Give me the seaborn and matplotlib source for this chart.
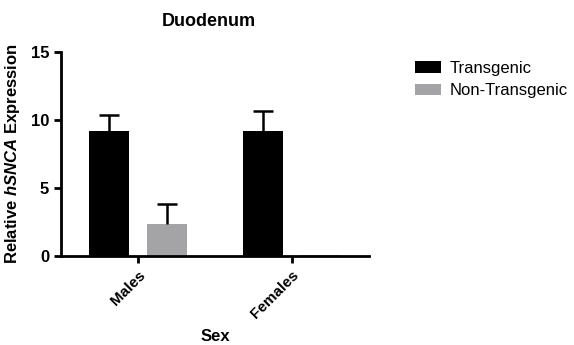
import matplotlib
matplotlib.use('Agg')
import matplotlib.pyplot as plt
import seaborn as sns
import pandas as pd

sexes = ['Males', 'Females']
groups = ['Transgenic', 'Non-Transgenic']
trans_mean = [9.2, 9.2]
trans_err = [1.2, 1.45]
nontrans_mean = [2.35, 0.05]
nontrans_err = [1.45, 0.0]

df = pd.DataFrame({
    'Sex': sexes * 2,
    'Group': [groups[0]] * 2 + [groups[1]] * 2,
    'Expr': trans_mean + nontrans_mean,
    'Err': trans_err + nontrans_err,
})

sns.set_style('ticks')
plt.rcParams['font.family'] = ['Liberation Sans', 'DejaVu Sans']
plt.rcParams['text.color'] = 'black'
plt.rcParams['axes.labelcolor'] = 'black'
plt.rcParams['xtick.color'] = 'black'
plt.rcParams['ytick.color'] = 'black'
plt.rcParams['axes.edgecolor'] = 'black'
plt.rcParams['mathtext.fontset'] = 'custom'
plt.rcParams['mathtext.it'] = 'Liberation Sans:italic:bold'
plt.rcParams['mathtext.rm'] = 'Liberation Sans:bold'

fig = plt.figure(figsize=(5.74, 3.45), dpi=100)
ax = fig.add_axes([0.106, 0.258, 0.537, 0.591])

palette = {'Transgenic': '#000000', 'Non-Transgenic': '#a4a4a6'}
sns.barplot(data=df, x='Sex', y='Expr', hue='Group', order=sexes, hue_order=groups,
            palette=palette, errorbar=None, width=0.75, gap=0.31,
            saturation=1, ax=ax, linewidth=0)

# upper error bars only (stem + top cap)
for cont, g in zip(ax.containers, groups):
    sub = df[df['Group'] == g].set_index('Sex').loc[sexes]
    for bar, m, e in zip(cont, sub['Expr'], sub['Err']):
        if e <= 0:
            continue
        xc = bar.get_x() + bar.get_width() / 2
        ax.plot([xc, xc], [m, m + e], color='black', lw=1.8, solid_capstyle='butt')
        ax.plot([xc], [m + e], marker='_', markersize=15, mew=1.8, color='black')

ax.set_xlim(-0.5, 1.5)
ax.set_ylim(0, 15)
ax.set_yticks([0, 5, 10, 15])
sns.despine(ax=ax)
for s in ['left', 'bottom']:
    ax.spines[s].set_linewidth(2)
ax.tick_params(width=2, length=5, labelsize=12)
for lab in ax.get_yticklabels():
    lab.set_fontweight('bold')
ax.set_xticks(range(len(sexes)))
ax.set_xticklabels(sexes, rotation=45, ha='right', rotation_mode='anchor',
                   fontweight='bold', fontsize=11)

ax.set_title('Duodenum', fontweight='bold', fontsize=13, pad=19, x=0.48)
ax.set_xlabel('Sex', fontweight='bold', fontsize=12, labelpad=6)
ax.set_ylabel(r'Relative $\mathit{hSNCA}$ Expression', fontweight='bold', fontsize=12,
              labelpad=6)

ax.legend(loc='upper left', bbox_to_anchor=(1.127, 0.99), frameon=False,
          fontsize=12, handlelength=1.55, handleheight=0.7, borderaxespad=0,
          labelspacing=0.45, handletextpad=0.55)

fig.savefig('out.png', dpi=100)
